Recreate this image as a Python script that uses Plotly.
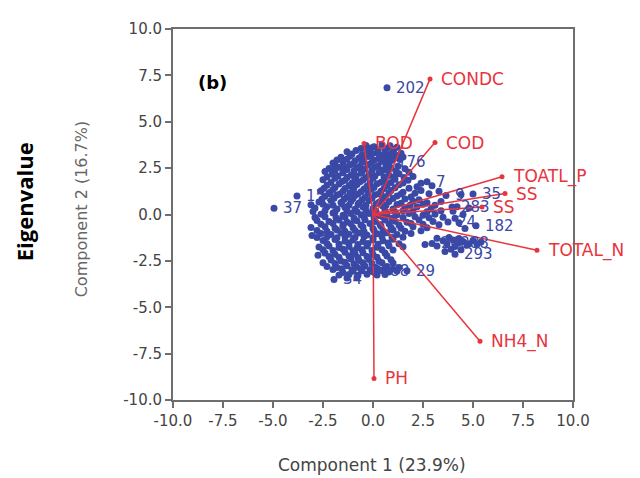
import plotly.graph_objects as go

# ---------------- data ----------------
# PCA loadings (variable vectors), endpoint coordinates
var_names = ["CONDC", "BOD", "COD", "TOATL_P", "SS", "SS", "TOTAL_N", "NH4_N", "PH"]
var_x = [2.85, -0.45, 3.10, 6.45, 6.60, 5.45, 8.20, 5.35, 0.05]
var_y = [7.31, 3.83, 3.88, 2.03, 1.13, 0.40, -1.93, -6.83, -8.84]

# PCA scores of samples (component 1, component 2)
scores = [
    (0.70, 6.83),
    (-0.35, 3.72), (0.05, 3.65), (0.45, 3.78), (0.85, 3.70), (1.20, 3.62), (0.25, 3.50),
    (-0.60, 3.56), (-0.10, 3.58), (0.70, 3.57), (1.05, 3.52),
    (-1.30, 3.38), (-0.85, 3.45), (-0.30, 3.40), (0.20, 3.32), (0.60, 3.44), (1.00, 3.36), (1.40, 3.30),
    (-1.05, 3.26), (-0.55, 3.22), (-0.05, 3.28), (0.45, 3.20), (0.85, 3.24), (1.25, 3.18),
    (-1.60, 3.08), (-1.15, 3.15), (-0.70, 3.05), (-0.20, 3.12), (0.30, 3.02), (0.70, 3.16), (1.10, 3.05), (1.50, 3.10),
    (-1.80, 2.94), (-1.30, 2.98), (-0.90, 2.90), (-0.45, 2.96), (0.05, 2.92), (0.55, 2.98), (0.95, 2.92), (1.35, 2.96),
    (-2.00, 2.78), (-1.50, 2.85), (-1.00, 2.72), (-0.55, 2.82), (-0.10, 2.76), (0.40, 2.86), (0.80, 2.70), (0.75, 2.82),
    (-1.90, 2.66), (-1.45, 2.62), (-1.15, 2.68), (-0.65, 2.60), (-0.25, 2.68), (0.25, 2.62), (0.65, 2.66), (1.25, 2.60),
    (-2.20, 2.48), (-1.70, 2.55), (-1.30, 2.42), (-0.80, 2.52), (-0.40, 2.45), (0.10, 2.56), (0.50, 2.40), (0.90, 2.50), (1.60, 2.46),
    (-2.40, 2.32), (-1.90, 2.38), (-1.50, 2.30), (-0.95, 2.36), (-0.55, 2.32), (-0.05, 2.38), (0.40, 2.30), (0.75, 2.36), (1.15, 2.34), (1.80, 2.28),
    (-2.05, 2.18), (-1.50, 2.25), (-1.10, 2.12), (-0.60, 2.22), (-0.20, 2.15), (0.30, 2.26), (0.80, 2.10), (1.30, 2.20), (2.00, 2.05),
    (-2.30, 2.02), (-1.75, 2.08), (-1.30, 2.00), (-0.85, 2.06), (-0.35, 2.00), (0.10, 2.08), (0.55, 2.02), (1.05, 2.04), (1.55, 2.00),
    (-2.50, 1.88), (-1.90, 1.95), (-1.40, 1.84), (-0.90, 1.92), (-0.50, 1.86), (0.00, 1.96), (0.60, 1.82), (1.10, 1.90), (1.75, 1.85), (2.70, 1.77), (2.95, 1.55),
    (-2.10, 1.72), (-1.55, 1.78), (-1.05, 1.70), (-0.65, 1.76), (-0.15, 1.70), (0.40, 1.74), (0.90, 1.72), (1.50, 1.70), (2.40, 1.68),
    (-2.30, 1.58), (-1.70, 1.65), (-1.20, 1.55), (-0.80, 1.62), (-0.30, 1.52), (0.20, 1.66), (0.70, 1.56), (1.30, 1.60), (2.20, 1.50),
    (-2.45, 1.42), (-1.90, 1.46), (-1.40, 1.40), (-0.95, 1.44), (-0.45, 1.38), (0.05, 1.46), (0.55, 1.40), (1.10, 1.44), (1.80, 1.42),
    (-2.60, 1.28), (-2.00, 1.35), (-1.50, 1.25), (-1.00, 1.32), (-0.60, 1.22), (-0.10, 1.36), (0.40, 1.26), (0.90, 1.30), (1.50, 1.20), (2.40, 1.30), (3.30, 1.25),
    (-2.20, 1.14), (-1.65, 1.10), (-1.15, 1.16), (-0.75, 1.10), (-0.25, 1.14), (0.30, 1.12), (0.80, 1.16), (1.40, 1.10), (2.10, 1.14), (2.80, 1.12),
    (-3.80, 1.00),
    (-2.40, 0.98), (-1.80, 1.05), (-1.30, 0.95), (-0.90, 1.02), (-0.40, 0.92), (0.10, 1.06), (0.60, 0.96), (1.20, 1.00), (1.90, 0.94), (3.65, 1.03), (4.40, 1.08), (5.00, 1.10),
    (-2.55, 0.84), (-1.95, 0.88), (-1.45, 0.82), (-1.00, 0.86), (-0.55, 0.80), (-0.05, 0.88), (0.45, 0.82), (1.00, 0.86), (1.60, 0.84), (2.30, 0.80),
    (-2.70, 0.68), (-2.10, 0.75), (-1.60, 0.65), (-1.10, 0.72), (-0.70, 0.62), (-0.20, 0.76), (0.30, 0.66), (0.80, 0.70), (1.40, 0.60), (2.00, 0.72), (2.70, 0.64), (3.40, 0.70),
    (-3.10, 0.52), (-2.50, 0.55), (-2.00, 0.50), (-1.55, 0.56), (-1.20, 0.50), (-0.75, 0.54), (-0.35, 0.50), (0.15, 0.56), (0.65, 0.50), (1.20, 0.54), (1.85, 0.50), (2.50, 0.55), (3.10, 0.50),
    (-4.95, 0.34),
    (-2.90, 0.35), (-2.30, 0.42), (-1.80, 0.30), (-1.40, 0.38), (-0.90, 0.28), (-0.50, 0.40), (0.00, 0.32), (0.50, 0.44), (1.00, 0.30), (1.60, 0.36), (2.20, 0.42), (2.90, 0.30), (3.95, 0.40), (4.20, 0.42), (4.80, 0.35),
    (-3.00, 0.16), (-2.40, 0.20), (-1.90, 0.14), (-1.30, 0.20), (-0.80, 0.15), (-0.35, 0.22), (0.15, 0.16), (0.60, 0.20), (1.10, 0.14), (1.50, 0.20), (2.00, 0.18), (2.70, 0.15), (3.40, 0.20), (4.00, 0.18),
    (-2.60, 0.02), (-2.00, 0.08), (-1.50, -0.04), (-1.10, 0.05), (-0.60, -0.02), (-0.20, 0.06), (0.30, -0.05), (0.70, 0.04), (1.20, -0.02), (1.80, 0.06), (2.50, -0.04), (3.10, 0.02), (4.50, 0.00),
    (-2.90, -0.16), (-2.40, -0.12), (-1.85, -0.18), (-1.40, -0.14), (-0.95, -0.20), (-0.45, -0.12), (0.05, -0.18), (0.50, -0.14), (0.95, -0.20), (1.50, -0.16), (2.10, -0.12), (2.80, -0.18), (3.50, -0.15), (4.10, -0.20),
    (-2.80, -0.32), (-2.20, -0.38), (-1.70, -0.30), (-1.30, -0.40), (-0.80, -0.34), (-0.40, -0.28), (0.10, -0.38), (0.60, -0.30), (1.10, -0.36), (1.70, -0.42), (2.30, -0.30), (3.00, -0.38), (3.75, -0.40), (4.30, -0.45), (5.15, -0.60),
    (-2.60, -0.52), (-2.00, -0.48), (-1.50, -0.55), (-1.10, -0.50), (-0.60, -0.56), (-0.15, -0.48), (0.35, -0.54), (0.80, -0.50), (1.30, -0.56), (1.90, -0.48), (2.50, -0.52), (3.30, -0.55),
    (-3.10, -0.70), (-2.40, -0.66), (-1.90, -0.74), (-1.50, -0.64), (-1.00, -0.72), (-0.50, -0.68), (0.00, -0.76), (0.40, -0.64), (0.90, -0.70), (1.40, -0.74), (2.00, -0.66), (2.70, -0.72), (4.60, -0.75),
    (-2.80, -0.86), (-2.30, -0.90), (-1.80, -0.84), (-1.40, -0.90), (-0.90, -0.86), (-0.45, -0.92), (0.05, -0.86), (0.50, -0.90), (1.00, -0.84), (1.60, -0.90), (2.40, -0.88),
    (-2.60, -1.02), (-2.10, -1.08), (-1.60, -0.98), (-1.20, -1.06), (-0.70, -1.00), (-0.30, -1.10), (0.20, -1.04), (0.70, -0.98), (1.20, -1.08), (1.90, -1.02),
    (-3.05, -1.13),
    (-2.80, -1.24), (-2.30, -1.20), (-1.80, -1.26), (-1.40, -1.20), (-0.90, -1.24), (-0.45, -1.18), (0.00, -1.26), (0.45, -1.20), (0.95, -1.24), (1.50, -1.22), (3.20, -1.28), (3.80, -1.24), (4.30, -1.30),
    (-2.50, -1.40), (-1.90, -1.35), (-1.40, -1.44), (-1.00, -1.38), (-0.50, -1.46), (0.00, -1.36), (0.50, -1.42), (1.00, -1.34), (2.95, -1.56), (3.50, -1.42), (4.00, -1.38), (4.50, -1.45), (5.00, -1.40), (5.40, -1.48),
    (-2.30, -1.56), (-1.70, -1.60), (-1.20, -1.54), (-0.75, -1.62), (-0.25, -1.56), (0.25, -1.60), (0.75, -1.54), (1.30, -1.58), (3.70, -1.58), (4.25, -1.55), (4.80, -1.58), (5.20, -1.60),
    (-2.70, -1.75), (-2.20, -1.70), (-1.70, -1.78), (-1.20, -1.72), (-0.80, -1.80), (-0.30, -1.70), (0.20, -1.76), (0.80, -1.68), (1.50, -1.74), (2.60, -1.62), (3.20, -1.70), (4.10, -1.72), (4.70, -1.65),
    (-2.50, -1.90), (-2.00, -1.94), (-1.50, -1.88), (-1.00, -1.96), (-0.55, -1.90), (-0.05, -1.94), (0.45, -1.90), (1.00, -1.92), (3.90, -1.88), (4.40, -1.90),
    (-2.40, -2.08), (-1.90, -2.14), (-1.40, -2.04), (-0.90, -2.12), (-0.50, -2.06), (0.00, -2.16), (0.60, -2.08), (3.60, -2.00), (4.10, -2.14),
    (-2.75, -2.20),
    (-2.20, -2.26), (-1.70, -2.30), (-1.20, -2.24), (-0.75, -2.32), (-0.30, -2.26), (0.20, -2.30), (0.70, -2.24),
    (-2.10, -2.45), (-1.60, -2.50), (-1.10, -2.40), (-0.70, -2.48), (-0.20, -2.42), (0.30, -2.52), (0.90, -2.44),
    (-2.50, -2.60), (-1.90, -2.64), (-1.40, -2.58), (-0.95, -2.66), (-0.50, -2.60), (-0.05, -2.64), (0.45, -2.60), (1.00, -2.62),
    (-2.30, -2.80), (-1.80, -2.86), (-1.30, -2.76), (-0.80, -2.84), (-0.40, -2.78), (0.10, -2.88), (0.70, -2.80), (1.30, -2.86),
    (-2.00, -2.96), (-1.55, -2.92), (-1.05, -2.98), (-0.60, -2.94), (-0.15, -2.98), (0.25, -2.94), (0.55, -2.96), (1.00, -2.94),
    (-1.50, -3.12), (-1.00, -3.06), (-0.55, -3.03), (0.00, -3.08), (0.40, -3.02), (0.80, -3.10), (1.20, -3.04), (1.70, -3.03),
    (-1.70, -3.26), (-1.20, -3.24), (-0.75, -3.28), (-0.30, -3.22), (0.20, -3.26), (0.60, -3.24),
    (-1.95, -3.50), (-1.30, -3.42), (-0.80, -3.38),
]
score_x = [p[0] for p in scores]
score_y = [p[1] for p in scores]

# labelled samples (label text, and the sample's score coordinates)
sample_labels = ["202", "159", "37", "176", "7", "9", "35", "283", "24", "182", "24888", "293", "34", "3888", "29"]
sample_lx = [0.70, -3.80, -4.95, 0.75, 2.70, 3.65, 5.00, 3.95, 3.75, 5.15, 2.95, 4.10, -1.95, -0.55, 1.70]
sample_ly = [6.83, 1.00, 0.34, 2.82, 1.77, 1.03, 1.10, 0.40, -0.40, -0.60, -1.56, -2.14, -3.50, -3.03, -3.03]

tick_vals = [-10.0, -7.5, -5.0, -2.5, 0.0, 2.5, 5.0, 7.5, 10.0]
tick_text = ["-10.0", "-7.5", "-5.0", "-2.5", "0.0", "2.5", "5.0", "7.5", "10.0"]

# ---------------- figure ----------------
BLUE = "#3a48a6"
RED = "#e8343c"

fig = go.Figure()

fig.add_trace(go.Scatter(
    x=score_x, y=score_y, mode="markers",
    marker=dict(color=BLUE, size=7, symbol="circle"),
    hoverinfo="skip", showlegend=False,
))

for nx, ny in zip(var_x, var_y):
    fig.add_trace(go.Scatter(
        x=[0, nx], y=[0, ny], mode="lines",
        line=dict(color=RED, width=1.5),
        hoverinfo="skip", showlegend=False,
    ))
fig.add_trace(go.Scatter(
    x=var_x, y=var_y, mode="markers",
    marker=dict(color=RED, size=5),
    hoverinfo="skip", showlegend=False, cliponaxis=False,
))

annotations = []
for name, nx, ny in zip(var_names, var_x, var_y):
    annotations.append(dict(
        x=nx, y=ny, xref="x", yref="y", text=name, showarrow=False,
        xanchor="left", yanchor="middle", xshift=9,
        font=dict(family="DejaVu Sans", size=17, color=RED),
    ))
for lab, lx, ly in zip(sample_labels, sample_lx, sample_ly):
    annotations.append(dict(
        x=lx, y=ly, xref="x", yref="y", text=lab, showarrow=False,
        xanchor="left", yanchor="middle", xshift=7,
        font=dict(family="DejaVu Sans", size=15, color=BLUE),
    ))

annotations += [
    dict(x=0.0975, y=0.855, xref="paper", yref="paper", text="<b>(b)</b>", showarrow=False,
         xanchor="center", yanchor="middle",
         font=dict(family="DejaVu Sans", size=18, color="black")),
    dict(x=0.4975, y=-0.176, xref="paper", yref="paper", text="Component 1 (23.9%)",
         showarrow=False, xanchor="center", yanchor="middle",
         font=dict(family="DejaVu Sans", size=17, color="#444")),
    dict(x=-0.23, y=0.514, xref="paper", yref="paper", text="Component 2 (16.7%)",
         showarrow=False, xanchor="center", yanchor="middle", textangle=-90,
         font=dict(family="DejaVu Sans", size=16, color="#666")),
    dict(x=-0.3725, y=0.533, xref="paper", yref="paper", text="<b>Eigenvalue</b>",
         showarrow=False, xanchor="center", yanchor="middle", textangle=-90,
         font=dict(family="Open Sans", size=22, color="black")),
]

axis_common = dict(
    range=[-10, 10], tickvals=tick_vals, ticktext=tick_text,
    showgrid=False, zeroline=False,
    showline=True, linecolor="#6e6e6e", linewidth=2, mirror=True,
    ticks="outside", ticklen=6, tickwidth=2, tickcolor="#6e6e6e",
    tickfont=dict(family="DejaVu Sans", size=15, color="#444"),
)

# the page body adds an 8px offset; size the figure so the plot lands where the reference has it
fig.update_layout(
    width=632, height=470,
    margin=dict(l=165, r=67, t=13, b=78),
    paper_bgcolor="white", plot_bgcolor="white",
    xaxis=axis_common, yaxis=axis_common,
    annotations=annotations,
    showlegend=False,
)

fig.write_html("out.html")
